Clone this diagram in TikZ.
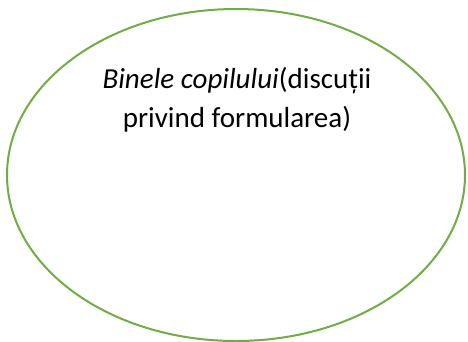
\documentclass[tikz,border=0pt]{standalone}
\usepackage{fontspec}
\setmainfont{Carlito}
\usetikzlibrary{shapes.geometric}
\definecolor{ogreen}{HTML}{70AD47}
\tikzset{
  oval/.style={ellipse, draw=ogreen, line width=2pt, inner sep=0pt},
  label text/.style={align=center, font=\fontsize{29}{39}\selectfont, anchor=base, inner sep=0pt}
}
\begin{document}
\begin{tikzpicture}[x=1pt,y=1pt]
\useasboundingbox (0,0) rectangle (468,-341);
\node[oval, minimum width=458pt, minimum height=332pt] (e) at (236,-175) {};
\node[label text] (t) at (237,-127) {\textit{Binele copilului}(discuții\\privind formularea)};
\end{tikzpicture}
\end{document}
